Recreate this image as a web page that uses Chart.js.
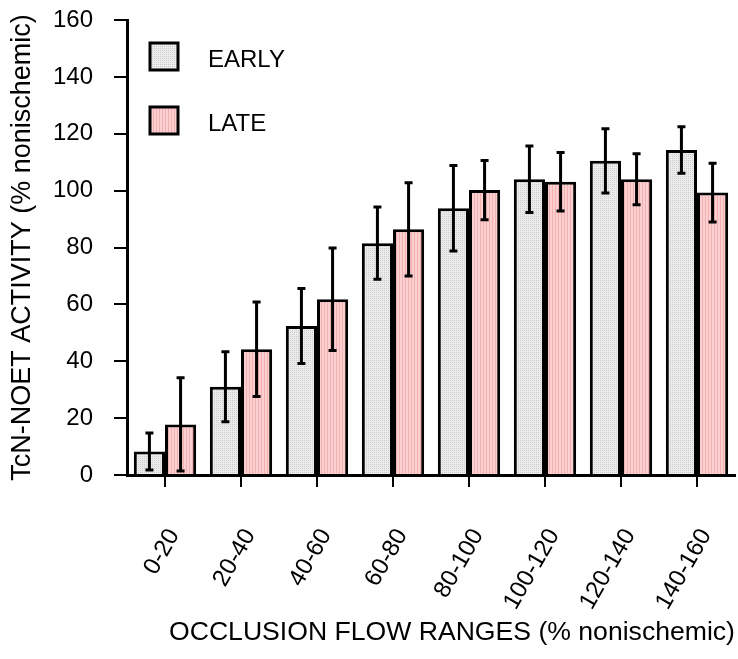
<!DOCTYPE html>
<html>
<head>
<meta charset="utf-8">
<script src="https://cdn.jsdelivr.net/npm/chart.js@4"></script>
<style>
    html, body { margin: 0; padding: 0; background: #fff; }
    #wrap { width: 738px; height: 659px; }
</style>
</head>
<body>
<div id="wrap"><canvas id="tcnChart" width="738" height="659"></canvas></div>
<script>
const categories = ['0-20', '20-40', '40-60', '60-80', '80-100', '100-120', '120-140', '140-160'];
const earlyValues = [8.3, 31, 52.4, 81.5, 93.8, 104, 110.5, 114.3];
const earlyErrors = [6.5, 12.3, 13.2, 12.7, 15, 11.7, 11.3, 8.2];
const lateValues = [17.8, 44.2, 61.8, 86.4, 100.2, 103.1, 104, 99.3];
const lateErrors = [16.4, 16.6, 18, 16.4, 10.4, 10.3, 9, 10.3];
const yTicks = [0, 20, 40, 60, 80, 100, 120, 140, 160];

const FONT = '"Liberation Sans", Arial, sans-serif';

// small tiles for the bar fills
function makePattern(w, h, paint) {
    const c = document.createElement('canvas');
    c.width = w;
    c.height = h;
    paint(c.getContext('2d'));
    return c.getContext('2d').createPattern(c, 'repeat');
}

const grayFill = makePattern(2, 2, (g) => {
    g.fillStyle = '#ececec';
    g.fillRect(0, 0, 2, 2);
    g.fillStyle = '#cbcbcb';
    g.fillRect(0, 0, 1, 1);
});

const pinkFill = makePattern(3, 1, (g) => {
    g.fillStyle = '#fcd0d0';
    g.fillRect(0, 0, 3, 1);
    g.fillStyle = '#f2b0b0';
    g.fillRect(0, 0, 1, 1);
});

const errorBars = {
    id: 'errorBars',
    afterDatasetsDraw(chart) {
        const { ctx } = chart;
        const y = chart.scales.y;
        ctx.save();
        ctx.strokeStyle = '#000';
        ctx.lineWidth = 3;
        chart.data.datasets.forEach((ds, i) => {
            chart.getDatasetMeta(i).data.forEach((bar, j) => {
                const v = ds.data[j];
                const e = ds.errors[j];
                const top = y.getPixelForValue(v + e);
                const bottom = y.getPixelForValue(Math.max(0, v - e));
                ctx.beginPath();
                ctx.moveTo(bar.x, top);
                ctx.lineTo(bar.x, bottom);
                ctx.moveTo(bar.x - 4, top);
                ctx.lineTo(bar.x + 4, top);
                ctx.moveTo(bar.x - 4, bottom);
                ctx.lineTo(bar.x + 4, bottom);
                ctx.stroke();
            });
        });
        ctx.restore();
    },
};

const boxLegend = {
    id: 'boxLegend',
    afterDraw(chart) {
        const { ctx } = chart;
        ctx.save();
        ctx.font = '24px ' + FONT;
        ctx.textBaseline = 'middle';
        chart.data.datasets.forEach((ds, i) => {
            const top = 43 + i * 64;
            ctx.fillStyle = ds.backgroundColor;
            ctx.fillRect(150, top, 28, 27);
            ctx.lineWidth = 3;
            ctx.strokeStyle = '#000';
            ctx.strokeRect(150, top, 28, 27);
            ctx.fillStyle = '#000';
            ctx.fillText(ds.label, 208, top + 17);
        });
        ctx.restore();
    },
};

const xTitle = {
    id: 'xTitle',
    afterDraw(chart) {
        const { ctx } = chart;
        ctx.save();
        ctx.font = '26.6px ' + FONT;
        ctx.fillStyle = '#000';
        ctx.textAlign = 'center';
        ctx.textBaseline = 'middle';
        ctx.fillText('OCCLUSION FLOW RANGES (% nonischemic)', 452, 633);
        ctx.restore();
    },
};

new Chart(document.getElementById('tcnChart'), {
    type: 'bar',
    data: {
        labels: categories,
        datasets: [
            { label: 'EARLY', data: earlyValues, errors: earlyErrors, backgroundColor: grayFill, borderColor: '#000', borderWidth: 3 },
            { label: 'LATE', data: lateValues, errors: lateErrors, backgroundColor: pinkFill, borderColor: '#000', borderWidth: 3 },
        ],
    },
    options: {
        responsive: false,
        animation: false,
        barPercentage: 1,
        categoryPercentage: 0.82,
        layout: { padding: { top: 20, right: 3, bottom: 0, left: 6 } },
        plugins: { legend: { display: false }, tooltip: { enabled: false } },
        scales: {
            x: {
                afterFit: (scale) => { scale.paddingLeft = 0; scale.paddingRight = 0; scale.height = 184; },
                grid: { offset: false, drawOnChartArea: false, drawTicks: true, tickLength: 12, color: '#000', lineWidth: 2 },
                border: { display: true, color: '#000', width: 3 },
                ticks: { color: '#000', font: { family: FONT, size: 24 }, minRotation: 60, maxRotation: 60, padding: 37, labelOffset: 9 },
            },
            y: {
                min: 0,
                max: 160,
                afterBuildTicks: (axis) => { axis.ticks = yTicks.map((v) => ({ value: v })); },
                afterFit: (scale) => { scale.paddingTop = 0; scale.paddingBottom = 0; scale.width = 121; },
                grid: { drawOnChartArea: false, drawTicks: true, tickLength: 13, color: '#000', lineWidth: 2 },
                border: { display: true, color: '#000', width: 3 },
                ticks: { color: '#000', font: { family: FONT, size: 24 }, padding: 21 },
                title: { display: true, text: 'TcN-NOET ACTIVITY (% nonischemic)', color: '#000', font: { family: FONT, size: 27 }, padding: { top: 0, bottom: 14 } },
            },
        },
    },
    plugins: [errorBars, boxLegend, xTitle],
});
</script>
</body>
</html>
